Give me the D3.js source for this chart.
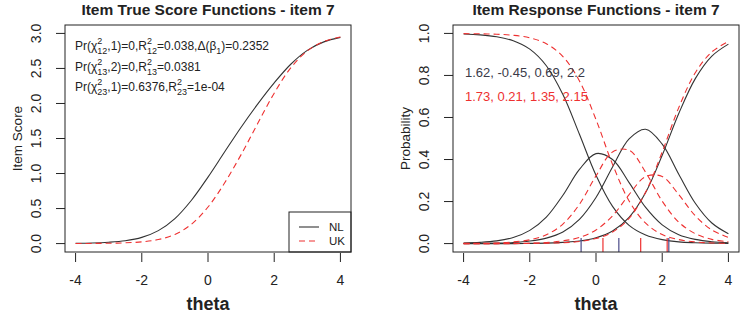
<!DOCTYPE html>
<html>
<head>
<meta charset="utf-8">
<script src="https://cdn.jsdelivr.net/npm/d3@7"></script>
<style>
  body { margin: 0; background: #fff; }
  text { font-family: "Liberation Sans", Arial, sans-serif; fill: #222; }
</style>
</head>
<body>
<script>
// ability grid
var theta = [-4, -3.5, -3, -2.5, -2, -1.5, -1, -0.5, 0, 0.5, 1, 1.5, 2, 2.5, 3, 3.5, 4];

// item true score (left panel)
var nlScore = [0.004, 0.008, 0.019, 0.041, 0.089, 0.185, 0.357, 0.619, 0.949, 1.307, 1.661, 1.991, 2.294, 2.560, 2.758, 2.879, 2.943];
var ukScore = [0.001, 0.002, 0.005, 0.011, 0.025, 0.058, 0.131, 0.276, 0.522, 0.864, 1.270, 1.713, 2.147, 2.508, 2.751, 2.885, 2.949];

// category response probabilities (right panel)
var nlCat0 = [0.997, 0.993, 0.984, 0.965, 0.925, 0.846, 0.709, 0.520, 0.325, 0.177, 0.087, 0.041, 0.019, 0.008, 0.004, 0.002, 0.001];
var nlCat1 = [0.003, 0.006, 0.013, 0.029, 0.063, 0.126, 0.230, 0.353, 0.428, 0.400, 0.290, 0.172, 0.089, 0.042, 0.020, 0.009, 0.004];
var nlCat2 = [0.001, 0.001, 0.002, 0.005, 0.012, 0.026, 0.055, 0.115, 0.219, 0.364, 0.498, 0.544, 0.473, 0.330, 0.192, 0.098, 0.047];
var nlCat3 = [0.000, 0.000, 0.000, 0.000, 0.001, 0.002, 0.006, 0.012, 0.028, 0.060, 0.125, 0.243, 0.420, 0.619, 0.785, 0.892, 0.949];
var ukCat0 = [0.999, 0.998, 0.996, 0.991, 0.979, 0.951, 0.890, 0.774, 0.590, 0.377, 0.203, 0.097, 0.043, 0.019, 0.008, 0.003, 0.001];
var ukCat1 = [0.001, 0.001, 0.003, 0.008, 0.018, 0.042, 0.093, 0.187, 0.322, 0.436, 0.444, 0.339, 0.202, 0.102, 0.047, 0.020, 0.009];
var ukCat2 = [0.000, 0.000, 0.000, 0.001, 0.002, 0.005, 0.013, 0.029, 0.065, 0.132, 0.233, 0.319, 0.319, 0.233, 0.132, 0.065, 0.029];
var ukCat3 = [0.000, 0.000, 0.000, 0.000, 0.001, 0.002, 0.004, 0.010, 0.024, 0.055, 0.120, 0.245, 0.436, 0.647, 0.813, 0.912, 0.961];

// item parameters (slope, thresholds) printed on the plot
var nlPars = [1.62, -0.45, 0.69, 2.2];
var ukPars = [1.73, 0.21, 1.35, 2.15];

var groups = ["NL", "UK"];
var xTicks = [-4, -2, 0, 2, 4];
var scoreTicks = [0, 0.5, 1, 1.5, 2, 2.5, 3];
var probTicks = [0, 0.2, 0.4, 0.6, 0.8, 1];

var black = "#333", red = "#ee3030", rugBlue = "#4a4a88";
var top0 = 25, bot0 = 252;

var svg = d3.select("body").append("svg")
  .attr("width", 740)
  .attr("height", 313);

function panel(left, right, yDomain, yTicks, title, yLabel) {
  var x = d3.scaleLinear().domain([-4.32, 4.32]).range([left, right]);
  var y = d3.scaleLinear().domain(yDomain).range([bot0, top0]);
  var g = svg.append("g");

  g.append("text").attr("x", (left + right) / 2).attr("y", 15)
    .attr("text-anchor", "middle").style("font-weight", "bold").style("font-size", "15.5px")
    .text(title);

  g.selectAll(".xt").data(xTicks).enter().append("line")
    .attr("x1", function(d) { return x(d); }).attr("x2", function(d) { return x(d); })
    .attr("y1", bot0 + 1).attr("y2", bot0 + 10).attr("stroke", "#222");
  g.selectAll(".xl").data(xTicks).enter().append("text")
    .attr("x", function(d) { return x(d); }).attr("y", 285)
    .attr("text-anchor", "middle").style("font-size", "14px")
    .text(function(d) { return d; });

  g.selectAll(".yt").data(yTicks).enter().append("line")
    .attr("x1", left - 9).attr("x2", left)
    .attr("y1", function(d) { return y(d); }).attr("y2", function(d) { return y(d); })
    .attr("stroke", "#222");
  g.selectAll(".yl").data(yTicks).enter().append("text")
    .attr("transform", function(d) { return "translate(" + (left - 24) + "," + y(d) + ") rotate(-90)"; })
    .attr("text-anchor", "middle").style("font-size", "14px")
    .text(function(d) { return d3.format(".1f")(d); });

  g.append("text").attr("x", (left + right) / 2).attr("y", 310)
    .attr("text-anchor", "middle").style("font-weight", "bold").style("font-size", "18px")
    .text("theta");
  g.append("text")
    .attr("transform", "translate(" + (left - 43) + "," + ((top0 + bot0) / 2) + ") rotate(-90)")
    .attr("text-anchor", "middle").style("font-size", "13.5px")
    .text(yLabel);

  return { g: g, x: x, y: y, left: left, right: right };
}

function curve(p, values, color, dashed) {
  var line = d3.line()
    .x(function(d, i) { return p.x(theta[i]); })
    .y(function(d) { return p.y(d); })
    .curve(d3.curveCatmullRom);
  p.g.append("path")
    .attr("d", line(values))
    .attr("fill", "none")
    .attr("stroke", color)
    .attr("stroke-width", 1.1)
    .attr("stroke-dasharray", dashed ? "6,4" : null);
}

function box(p) {
  p.g.append("rect").attr("x", p.left).attr("y", top0)
    .attr("width", p.right - p.left).attr("height", bot0 - top0)
    .attr("fill", "none").attr("stroke", "#222");
}

// write a line of text with stacked super/subscripts
function mathText(g, x0, y0, parts) {
  var x = x0;
  parts.forEach(function(p) {
    if (typeof p === "string") {
      var t = g.append("text").attr("x", x).attr("y", y0).style("font-size", "12px").text(p);
      x += t.node().getComputedTextLength();
    } else {
      var w = 0;
      if (p.sup) {
        var s = g.append("text").attr("x", x).attr("y", y0 - 6).style("font-size", "9px").text(p.sup);
        w = Math.max(w, s.node().getComputedTextLength());
      }
      if (p.sub) {
        var b = g.append("text").attr("x", x).attr("y", y0 + 4).style("font-size", "9px").text(p.sub);
        w = Math.max(w, b.node().getComputedTextLength());
      }
      x += w;
    }
  });
}

// ---- left: item true score functions
var pL = panel(65, 351, [-0.12, 3.12], scoreTicks, "Item True Score Functions - item 7", "Item Score");
curve(pL, nlScore, black, false);
curve(pL, ukScore, red, true);

mathText(pL.g, 75, 50, ["Pr(\u03c7", {sup: "2", sub: "12"}, ",1)=0,R", {sup: "2", sub: "12"}, "=0.038,\u0394(\u03b2", {sub: "1"}, ")=0.2352"]);
mathText(pL.g, 75, 71, ["Pr(\u03c7", {sup: "2", sub: "13"}, ",2)=0,R", {sup: "2", sub: "13"}, "=0.0381"]);
mathText(pL.g, 75, 91, ["Pr(\u03c7", {sup: "2", sub: "23"}, ",1)=0.6376,R", {sup: "2", sub: "23"}, "=1e-04"]);

// legend
var lg = pL.g.append("g");
lg.append("rect").attr("x", 289).attr("y", 212).attr("width", 62).attr("height", 40)
  .attr("fill", "#fff").attr("stroke", "#222");
groups.forEach(function(name, i) {
  lg.append("line").attr("x1", 299).attr("x2", 319)
    .attr("y1", 227 + i * 14).attr("y2", 227 + i * 14)
    .attr("stroke", i ? red : black).attr("stroke-width", 1.1)
    .attr("stroke-dasharray", i ? "6,4" : null);
  lg.append("text").attr("x", 329).attr("y", 231 + i * 14).style("font-size", "11.5px").text(name);
});
box(pL);

// ---- right: item response functions
var pR = panel(453, 739, [-0.04, 1.04], probTicks, "Item Response Functions - item 7", "Probability");
[nlCat0, nlCat1, nlCat2, nlCat3].forEach(function(c) { curve(pR, c, black, false); });
[ukCat0, ukCat1, ukCat2, ukCat3].forEach(function(c) { curve(pR, c, red, true); });

// rug at thresholds
pR.g.selectAll(".rn").data(nlPars.slice(1)).enter().append("line")
  .attr("x1", function(d) { return pR.x(d); }).attr("x2", function(d) { return pR.x(d); })
  .attr("y1", bot0 - 14).attr("y2", bot0).attr("stroke", rugBlue).attr("stroke-width", 1.2);
pR.g.selectAll(".ru").data(ukPars.slice(1)).enter().append("line")
  .attr("x1", function(d) { return pR.x(d); }).attr("x2", function(d) { return pR.x(d); })
  .attr("y1", bot0 - 14).attr("y2", bot0).attr("stroke", red).attr("stroke-width", 1.2);

pR.g.append("text").attr("x", 465).attr("y", 77).style("font-size", "13px").style("fill", "#3a3a48")
  .text(nlPars.join(", "));
pR.g.append("text").attr("x", 465).attr("y", 101).style("font-size", "13px").style("fill", red)
  .text(ukPars.join(", "));
box(pR);
</script>
</body>
</html>
